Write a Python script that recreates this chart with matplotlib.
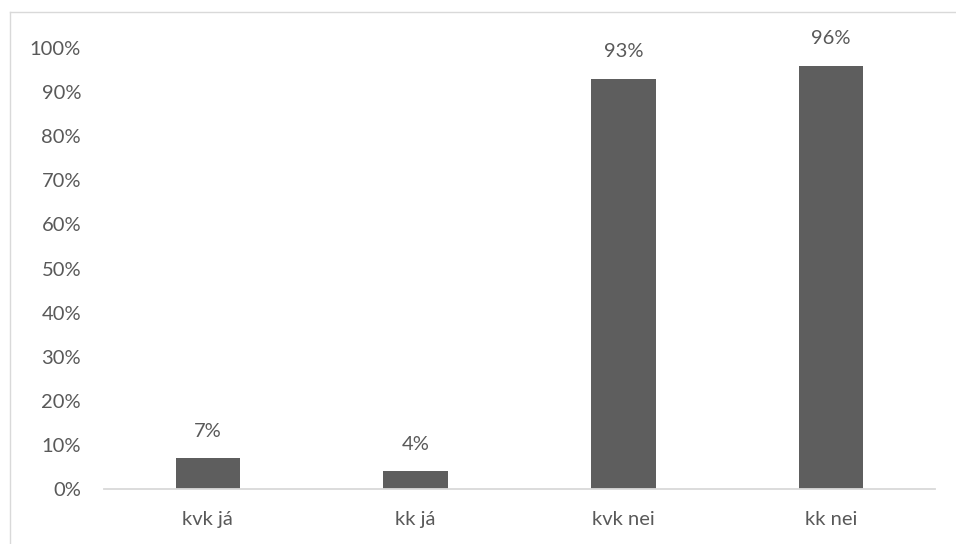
import matplotlib
matplotlib.use("Agg")
import matplotlib.pyplot as plt
from matplotlib.lines import Line2D
from matplotlib.ticker import PercentFormatter

categories = ["kvk já", "kk já", "kvk nei", "kk nei"]
values = [7, 4, 93, 96]
y_ticks = list(range(0, 101, 10))

W, H = 956, 544
text_color = "#595959"
bar_color = "#5e5e5e"
line_color = "#d9d9d9"
fs = 14.5

plt.rcParams["font.family"] = ["Lato", "DejaVu Sans"]

fig = plt.figure(figsize=(W / 100, H / 100), dpi=100)
ax = fig.add_axes([104 / W, 1 - 489 / H, (935 - 104) / W, (489 - 48) / H])

x = list(range(len(categories)))
ax.bar(x, values, width=0.31, color=bar_color, zorder=2)

for xi, v in zip(x, values):
    ax.annotate(f"{v}%", (xi, v), xytext=(0, 19.5), textcoords="offset points",
                ha="center", va="center", fontsize=fs, color=text_color)

ax.set_xlim(-0.5, len(categories) - 0.5)
ax.set_ylim(0, 100)
ax.set_yticks(y_ticks)
ax.yaxis.set_major_formatter(PercentFormatter(decimals=0))
ax.set_xticks(x)
ax.set_xticklabels(categories)
ax.tick_params(axis="both", length=0, labelsize=fs, labelcolor=text_color)
ax.tick_params(axis="y", pad=16.5)
ax.tick_params(axis="x", pad=16)

for side in ("top", "right", "left"):
    ax.spines[side].set_visible(False)
ax.spines["bottom"].set_color(line_color)
ax.spines["bottom"].set_linewidth(1.3)

# chart frame
fig.add_artist(Line2D([9.5 / W, 9.5 / W], [0, 1 - 11.5 / H], transform=fig.transFigure,
                      color=line_color, lw=1.0))
fig.add_artist(Line2D([9.5 / W, 1], [1 - 11.5 / H, 1 - 11.5 / H], transform=fig.transFigure,
                      color=line_color, lw=1.0))

fig.savefig("out.png", dpi=100)
